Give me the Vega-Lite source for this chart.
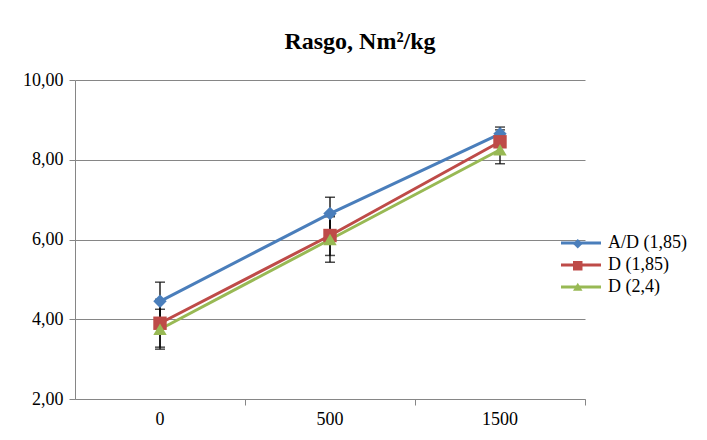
{
  "$schema": "https://vega.github.io/schema/vega-lite/v6.json",
  "width": 510,
  "height": 319,
  "autosize": {"type": "none"},
  "padding": {"left": 75, "top": 80, "right": 122, "bottom": 41},
  "background": "white",
  "config": {
    "locale": {"number": {"decimal": ",", "thousands": ".", "grouping": [3], "currency": ["", ""]}},
    "font": "Liberation Serif",
    "view": {"stroke": null},
    "axis": {"labelFont": "Liberation Serif", "labelFontSize": 18, "labelColor": "#000000", "domainColor": "#868686", "tickColor": "#868686", "gridColor": "#868686", "title": null}
  },
  "title": {"text": "Rasgo, Nm²/kg", "font": "Liberation Serif", "fontSize": 24, "fontWeight": "bold", "color": "#000000", "anchor": "middle", "dx": 30, "offset": 17},
  "data": {"values": [
    {"serie": "A/D (1,85)", "g": "0", "v": 4.45, "lo": 3.97, "hi": 4.93},
    {"serie": "A/D (1,85)", "g": "500", "v": 6.65, "lo": 6.24, "hi": 7.06},
    {"serie": "A/D (1,85)", "g": "1500", "v": 8.65, "lo": 8.48, "hi": 8.82},
    {"serie": "D (1,85)", "g": "0", "v": 3.9, "lo": 3.3, "hi": 4.5},
    {"serie": "D (1,85)", "g": "500", "v": 6.1, "lo": 5.6, "hi": 6.6},
    {"serie": "D (1,85)", "g": "1500", "v": 8.45, "lo": 8.15, "hi": 8.75},
    {"serie": "D (2,4)", "g": "0", "v": 3.75, "lo": 3.25, "hi": 4.25},
    {"serie": "D (2,4)", "g": "500", "v": 6.0, "lo": 5.43, "hi": 6.57},
    {"serie": "D (2,4)", "g": "1500", "v": 8.25, "lo": 7.9, "hi": 8.6}
  ]},
  "encoding": {
    "x": {"field": "g", "type": "ordinal", "sort": ["0", "500", "1500"],
      "scale": {"type": "band", "paddingInner": 0, "paddingOuter": 0},
      "axis": {"labelAngle": 0, "bandPosition": 1, "labelOffset": 0, "tickSize": 6, "labelPadding": 5, "domainWidth": 1}}
  },
  "layer": [
    {
      "mark": {"type": "rule", "color": "#000000", "strokeWidth": 1.3},
      "encoding": {
        "y": {"field": "lo", "type": "quantitative"},
        "y2": {"field": "hi"}
      }
    },
    {
      "mark": {"type": "tick", "color": "#000000", "thickness": 1.5, "orient": "horizontal", "size": 10},
      "encoding": {"y": {"field": "lo", "type": "quantitative"}}
    },
    {
      "mark": {"type": "tick", "color": "#000000", "thickness": 1.5, "orient": "horizontal", "size": 10},
      "encoding": {"y": {"field": "hi", "type": "quantitative"}}
    },
    {
      "mark": {"type": "line", "strokeWidth": 3},
      "encoding": {
        "y": {"field": "v", "type": "quantitative",
          "scale": {"domain": [2, 10], "nice": false, "zero": false},
          "axis": {"values": [2, 4, 6, 8, 10], "format": ".2f", "grid": true, "tickSize": 6, "labelPadding": 6}},
        "color": {"field": "serie", "type": "nominal",
          "scale": {"range": ["#4A7EBB", "#BE4B48", "#98B954"]},
          "legend": {"title": null, "orient": "none", "legendX": 482, "legendY": 154, "symbolType": "M-4,0H4", "symbolSize": 100, "symbolStrokeWidth": 3, "symbolOffset": 15, "labelFont": "Liberation Serif", "labelFontSize": 18, "labelColor": "#000000", "labelOffset": 18, "rowPadding": 4}}
      }
    },
    {
      "mark": {"type": "point", "filled": true, "opacity": 1, "size": 180, "strokeWidth": 0},
      "encoding": {
        "y": {"field": "v", "type": "quantitative"},
        "fill": {"field": "serie", "type": "nominal",
          "scale": {"domain": ["A/D (1,85)", "D (1,85)", "D (2,4)"], "range": ["#4A7EBB", "#BE4B48", "#98B954"]},
          "legend": {"title": null, "orient": "none", "legendX": 482, "legendY": 158.25, "symbolSize": 90, "symbolOffset": 15.25, "labelExpr": "''", "rowPadding": 5}},
        "shape": {"field": "serie", "type": "nominal",
          "scale": {"domain": ["A/D (1,85)", "D (1,85)", "D (2,4)"], "range": ["diamond", "square", "triangle-up"]},
          "legend": {"title": null, "orient": "none", "legendX": 482, "legendY": 158.25, "symbolSize": 90, "symbolOffset": 15.25, "labelExpr": "''", "rowPadding": 5}}
      }
    }
  ]
}
